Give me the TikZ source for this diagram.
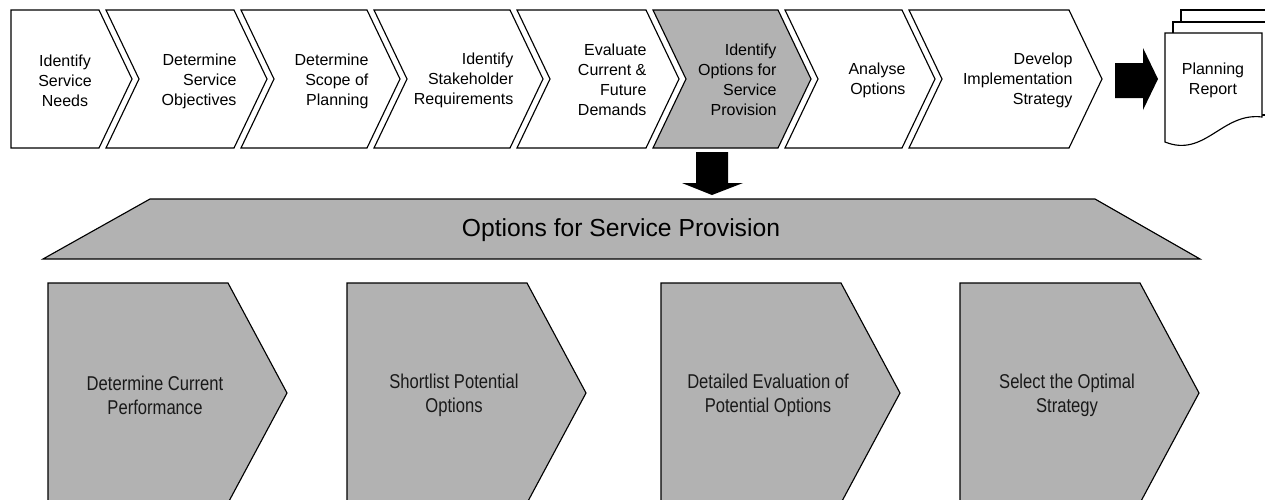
\documentclass[tikz,border=0pt]{standalone}
\usepackage{fontspec}
\setmainfont{Liberation Sans}
\newfontfamily\narrowsans{Liberation Sans}[FakeStretch=0.83]
\definecolor{stepgray}{gray}{0.7}

\tikzset{
  steptext/.style={font=\fontsize{12}{15}\selectfont,align=right,anchor=east,inner sep=0pt},
  subtext/.style={font=\narrowsans\fontsize{15}{18}\selectfont,align=center,inner sep=0pt,text=black!90},
}

\begin{document}
\begin{tikzpicture}[x=0.75pt,y=-0.75pt,line width=0.85pt]
\useasboundingbox (0,0) rectangle (1265,500);
% ---------- process chevrons ----------
\draw[fill=white] (11,10) -- (99,10) -- (132,79) -- (99,148) -- (11,148) -- cycle;
\foreach \l/\r/\c in {106/234/white,241/367/white,374/510/white,517/646/white,
                      653/778/stepgray,785/902/white,909/1069/white}
  \draw[fill=\c] (\l,10) -- (\r,10) -- ({\r+33},79) -- (\r,148) -- (\l,148) -- ({\l+33},79) -- cycle;
\node[steptext,align=center,anchor=center] (needs) at (65,81) {Identify\\Service\\Needs};
\node[steptext] (objectives) at (237,81) {Determine\\Service\\Objectives};
\node[steptext] (scope) at (369,81) {Determine\\Scope of\\Planning};
\node[steptext] (stakeholder) at (514,80) {Identify\\Stakeholder\\Requirements};
\node[steptext] (demands) at (647,80) {Evaluate\\Current \&\\Future\\Demands};
\node[steptext] (provision) at (777,80) {Identify\\Options for\\Service\\Provision};
\node[steptext] (analyse) at (906,80) {Analyse\\Options};
\node[steptext] (strategy) at (1073,80) {Develop\\Implementation\\Strategy};
% ---------- block arrow to report ----------
\fill (1115,63) -- (1143,63) -- (1143,48) -- (1158,79) -- (1143,110) -- (1143,98) -- (1115,98) -- cycle;
% ---------- planning report (stacked pages) ----------
\draw[fill=white] (1181,10) rectangle (1290,105);
\draw[fill=white] (1173,22) rectangle (1280,115);
\draw[fill=white] (1165,33) -- (1262,33) -- (1262,117)
  .. controls (1222,112) and (1205,158) .. (1165,142) -- cycle;
\node[steptext,align=center,anchor=center] (report) at (1213,80) {Planning\\Report};
% ---------- drill-down arrow ----------
\fill (696,152) -- (728,152) -- (728,183) -- (743,183) -- (712,195) -- (682,183) -- (696,183) -- cycle;
% ---------- options banner ----------
\draw[fill=stepgray] (150,199) -- (1095,199) -- (1200,259) -- (43,259) -- cycle;
\node[font=\fontsize{18.5}{22}\selectfont,inner sep=0pt] (options) at (621,230) {Options for Service Provision};
% ---------- sub-steps ----------
\foreach \l in {48,347,661,960}
  \draw[fill=stepgray] (\l,283) -- ({\l+180},283) -- ({\l+239},393) -- ({\l+180},503) -- (\l,503) -- cycle;
\node[subtext] (current) at (155,395) {Determine Current\\Performance};
\node[subtext] (shortlist) at (454,395) {Shortlist Potential\\Options};
\node[subtext] (detailed) at (768,395) {Detailed Evaluation of\\Potential Options};
\node[subtext] (optimal) at (1067,395) {Select the Optimal\\Strategy};
\end{tikzpicture}
\end{document}
